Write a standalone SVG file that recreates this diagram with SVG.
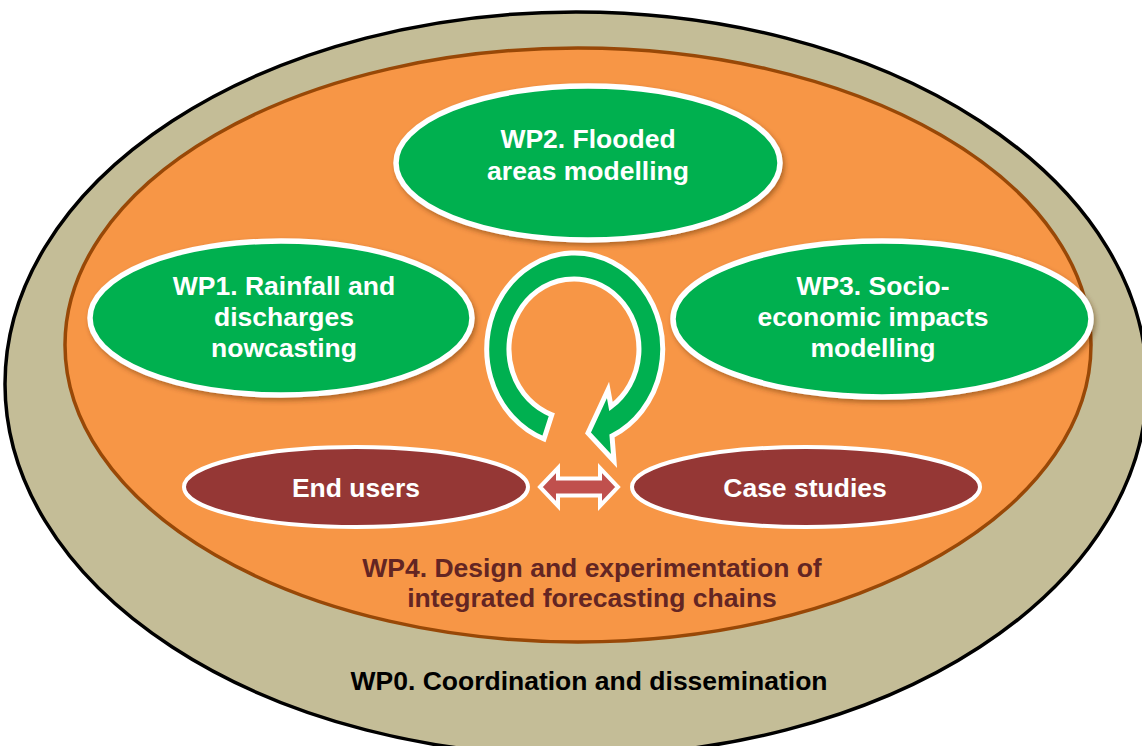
<svg xmlns="http://www.w3.org/2000/svg" width="1142" height="746" viewBox="0 0 1142 746">
  <style>
    .lbl { font-family: "Liberation Sans", Arial, sans-serif; font-weight: bold; font-size: 26.5px; text-anchor: middle; }
    .wp { fill: #00B050; stroke: #FFFFFF; stroke-width: 5.5; filter: url(#shadow); }
    .wp-text { fill: #FFFFFF; }
    .side { fill: #953735; stroke: #FFFFFF; stroke-width: 4; }
    .side-text { fill: #FFFFFF; }
  </style>
  <defs>
    <filter id="shadow" x="-10%" y="-10%" width="125%" height="130%">
      <feDropShadow dx="2" dy="3" stdDeviation="2.5" flood-color="#5A2A00" flood-opacity="0.45"/>
    </filter>
  </defs>

  <rect width="1142" height="746" fill="#FFFFFF"/>

  <!-- WP0: outer coordination ring -->
  <g id="wp0">
    <ellipse cx="576" cy="384" rx="571" ry="372" fill="#C4BD97" stroke="#000000" stroke-width="3.5"/>
    <text class="lbl" x="589" y="690" fill="#000000">WP0. Coordination and dissemination</text>
  </g>

  <!-- WP4: integrated forecasting chains -->
  <g id="wp4">
    <ellipse cx="578" cy="345" rx="513" ry="297" fill="#F79646" stroke="#984807" stroke-width="3.5"/>
    <text class="lbl" x="592" y="577" fill="#632523">WP4. Design and experimentation of</text>
    <text class="lbl" x="592" y="607" fill="#632523">integrated forecasting chains</text>
  </g>

  <g id="wp2">
    <ellipse class="wp" cx="588" cy="163" rx="192" ry="77"/>
    <text class="lbl wp-text" x="588" y="148">WP2. Flooded</text>
    <text class="lbl wp-text" x="588" y="180">areas modelling</text>
  </g>

  <g id="wp1">
    <ellipse class="wp" cx="281" cy="318" rx="191" ry="77"/>
    <text class="lbl wp-text" x="284" y="295">WP1. Rainfall and</text>
    <text class="lbl wp-text" x="284" y="326">discharges</text>
    <text class="lbl wp-text" x="284" y="357">nowcasting</text>
  </g>

  <g id="wp3">
    <ellipse class="wp" cx="882" cy="319" rx="209" ry="78"/>
    <text class="lbl wp-text" x="873" y="295">WP3. Socio-</text>
    <text class="lbl wp-text" x="873" y="326">economic impacts</text>
    <text class="lbl wp-text" x="873" y="357">modelling</text>
  </g>

  <g id="end-users">
    <ellipse class="side" cx="356" cy="487" rx="172" ry="40"/>
    <text class="lbl side-text" x="356" y="497">End users</text>
  </g>

  <g id="case-studies">
    <ellipse class="side" cx="806" cy="487" rx="174" ry="40"/>
    <text class="lbl side-text" x="805" y="497">Case studies</text>
  </g>

  <g id="connectors">
    <!-- clockwise cycle arrow between the work packages -->
    <path d="M544 439 A88 96 0 1 1 612 436 L614 461 L588 433 L608 390 L611 406.5 A65 70 0 1 0 551.8 414.8 Z"
          fill="#00B050" stroke="#FFFFFF" stroke-width="5" stroke-linejoin="miter"/>
    <!-- two-way link between end users and case studies -->
    <path d="M540 487 L558 468 L558 478.5 L600 478.5 L600 468 L618 487 L600 506 L600 495.5 L558 495.5 L558 506 Z"
          fill="#C0504D" stroke="#FFFFFF" stroke-width="4" stroke-linejoin="miter"/>
  </g>
</svg>
